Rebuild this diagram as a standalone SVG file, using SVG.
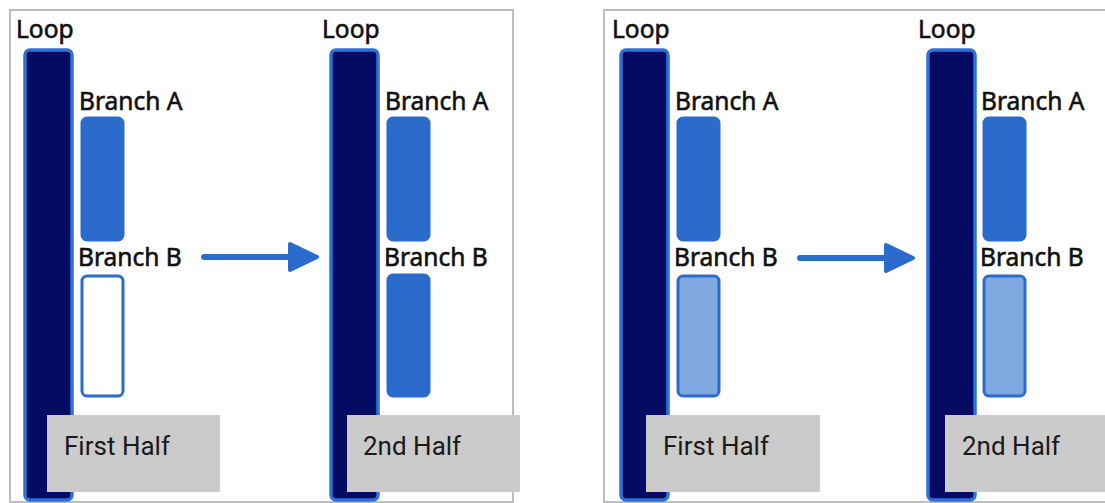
<svg xmlns="http://www.w3.org/2000/svg" width="1105" height="503" viewBox="0 0 1105 503">
  <style>
    .frame { fill: #ffffff; stroke: #bdbdbd; stroke-width: 2; }
    .loop { fill: #050b62; stroke: #2e72d6; stroke-width: 3.5; }
    .branch { fill: #2b6bcc; stroke: #2b6bcc; stroke-width: 3; }
    .branch-empty { fill: #ffffff; stroke: #2b6bcc; stroke-width: 3; }
    .branch-light { fill: #7fa7e0; stroke: #2b6bcc; stroke-width: 3; }
    .half { fill: #cbcbcb; }
    .lbl { font-family: "Noto Sans", "DejaVu Sans", sans-serif; font-size: 24.5px; fill: #111111; stroke: #111111; stroke-width: 0.6; }
    .half-lbl { font-family: Roboto, "Liberation Sans", sans-serif; font-size: 26px; fill: #1a1a1a; }
    .arrow-line { stroke: #2b6bcc; stroke-width: 6; stroke-linecap: round; fill: none; }
    .arrow-head { fill: #2b6bcc; stroke: #2b6bcc; stroke-width: 4; stroke-linejoin: round; }
  </style>

  <!-- panel frames -->
  <rect id="frame-left" class="frame" x="10" y="10" width="503" height="492"/>
  <rect id="frame-right" class="frame" x="604" y="10" width="510" height="492"/>

  <!-- left pair, first half: branch B not yet filled -->
  <g id="left-first">
    <text class="lbl" x="16" y="38">Loop</text>
    <rect class="loop" x="25" y="50" width="47" height="450" rx="5"/>
    <text class="lbl" x="79" y="110">Branch A</text>
    <rect class="branch" x="82" y="118" width="41" height="122" rx="5"/>
    <text class="lbl" x="78" y="266">Branch B</text>
    <rect class="branch-empty" x="82" y="276" width="41" height="120" rx="5"/>
    <rect class="half" x="47" y="415" width="173" height="77"/>
    <text class="half-lbl" x="64" y="455">First Half</text>
  </g>

  <!-- left pair, second half -->
  <g id="left-second">
    <text class="lbl" x="322" y="38">Loop</text>
    <rect class="loop" x="331" y="50" width="47" height="450" rx="5"/>
    <text class="lbl" x="385" y="110">Branch A</text>
    <rect class="branch" x="388" y="118" width="41" height="122" rx="5"/>
    <text class="lbl" x="384" y="266">Branch B</text>
    <rect class="branch" x="388" y="275" width="41" height="121" rx="5"/>
    <rect class="half" x="347" y="415" width="173" height="77"/>
    <text class="half-lbl" x="363" y="455">2nd Half</text>
  </g>

  <!-- right pair, first half: branch B partially filled -->
  <g id="right-first">
    <text class="lbl" x="612" y="38">Loop</text>
    <rect class="loop" x="621" y="50" width="47" height="450" rx="5"/>
    <text class="lbl" x="675" y="110">Branch A</text>
    <rect class="branch" x="678" y="118" width="41" height="122" rx="5"/>
    <text class="lbl" x="674" y="266">Branch B</text>
    <rect class="branch-light" x="678" y="276" width="41" height="120" rx="5"/>
    <rect class="half" x="646" y="415" width="174" height="77"/>
    <text class="half-lbl" x="663" y="455">First Half</text>
  </g>

  <!-- right pair, second half -->
  <g id="right-second">
    <text class="lbl" x="918" y="38">Loop</text>
    <rect class="loop" x="928" y="50" width="47" height="450" rx="5"/>
    <text class="lbl" x="981" y="110">Branch A</text>
    <rect class="branch" x="984" y="118" width="41" height="122" rx="5"/>
    <text class="lbl" x="980" y="266">Branch B</text>
    <rect class="branch-light" x="984" y="276" width="41" height="120" rx="5"/>
    <rect class="half" x="945" y="415" width="170" height="77"/>
    <text class="half-lbl" x="962" y="455">2nd Half</text>
  </g>

  <!-- transition arrows -->
  <g id="connectors">
    <line class="arrow-line" x1="204" y1="257" x2="292" y2="257"/>
    <polygon class="arrow-head" points="290,244 317,257 290,270"/>
    <line class="arrow-line" x1="800" y1="258" x2="888" y2="258"/>
    <polygon class="arrow-head" points="886,245 913,258 886,271"/>
  </g>
</svg>
